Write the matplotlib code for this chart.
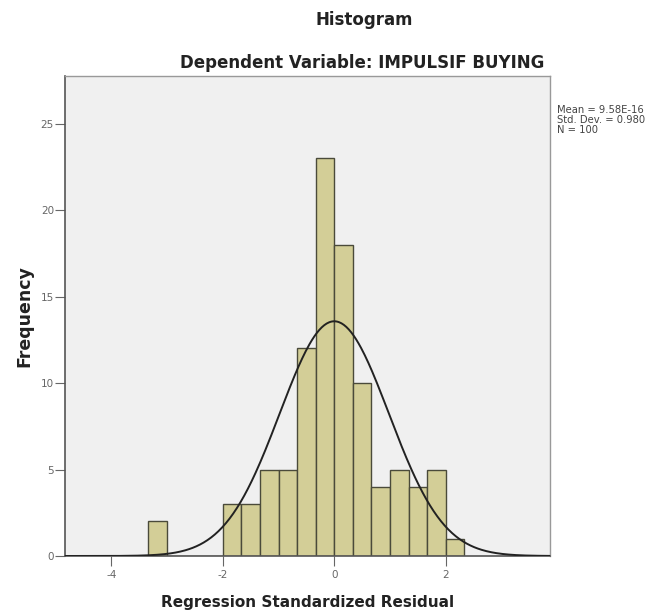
import numpy as np
import matplotlib
matplotlib.use('Agg')
import matplotlib.pyplot as plt

# Dados do histograma (residuos padronizados)
bin_edges = np.arange(-10, 8) / 3.0          # bordas de -3.33 ate 2.33
frequencias = [2, 0, 0, 0, 3, 3, 5, 5, 12, 23, 18, 10, 4, 5, 4, 5, 1]
media = 9.58e-16
desvio = 0.980
n = 100

plt.rcParams['font.family'] = ['DejaVu Sans']

fig = plt.figure(figsize=(6.57, 6.13), dpi=100)
ax = fig.add_axes([65 / 657, 1 - 556 / 613, (550 - 65) / 657, (556 - 76) / 613])
ax.set_facecolor('#f0f0f0')

largura = bin_edges[1:] - bin_edges[:-1]
ax.bar(bin_edges[:-1], frequencias, width=largura, align='edge',
       color='#d3ce97', edgecolor='#4a4a3a', linewidth=1.0, zorder=2)

# Curva normal
x = np.linspace(-4.9, 3.9, 400)
bw = 1 / 3
y = n * bw / (desvio * np.sqrt(2 * np.pi)) * np.exp(-0.5 * ((x - 0) / desvio) ** 2)
ax.plot(x, y, color='#222222', linewidth=1.4, zorder=3)

ax.set_xlim(-4.83, 3.87)
ax.set_ylim(0, 27.75)
ax.set_xticks([-4, -2, 0, 2])
ax.set_xticklabels(['-4', '-2', '0', '2'])
ax.set_yticks([0, 5, 10, 15, 20, 25])
ax.tick_params(axis='both', labelsize=7.5, colors='#666666', width=0.8)
ax.tick_params(axis='y', pad=1, length=7)
ax.tick_params(axis='x', pad=3, length=7)
for s in ['left', 'bottom']:
    ax.spines[s].set_color('#555555')
    ax.spines[s].set_linewidth(1.2)
for s in ['top', 'right']:
    ax.spines[s].set_color('#999999')
    ax.spines[s].set_linewidth(1.0)

ax.set_ylabel('Frequency', fontsize=12.5, fontweight='bold', color='#222222', labelpad=5)
ax.set_xlabel('Regression Standardized Residual', fontsize=11, fontweight='bold',
              color='#222222', labelpad=11)

fig.text(364 / 657, 1 - 20 / 613, 'Histogram', ha='center', va='center',
         fontsize=12, fontweight='bold', color='#222222')
fig.text(362 / 657, 1 - 63 / 613, 'Dependent Variable: IMPULSIF BUYING', ha='center',
         va='center', fontsize=12, fontweight='bold', color='#222222')

fig.text(557 / 657, 1 - 120 / 613,
         'Mean = 9.58E-16\nStd. Dev. = 0.980\nN = 100',
         ha='left', va='center', fontsize=7.2, color='#444444', linespacing=1.05)

fig.savefig('out.png', dpi=100)
